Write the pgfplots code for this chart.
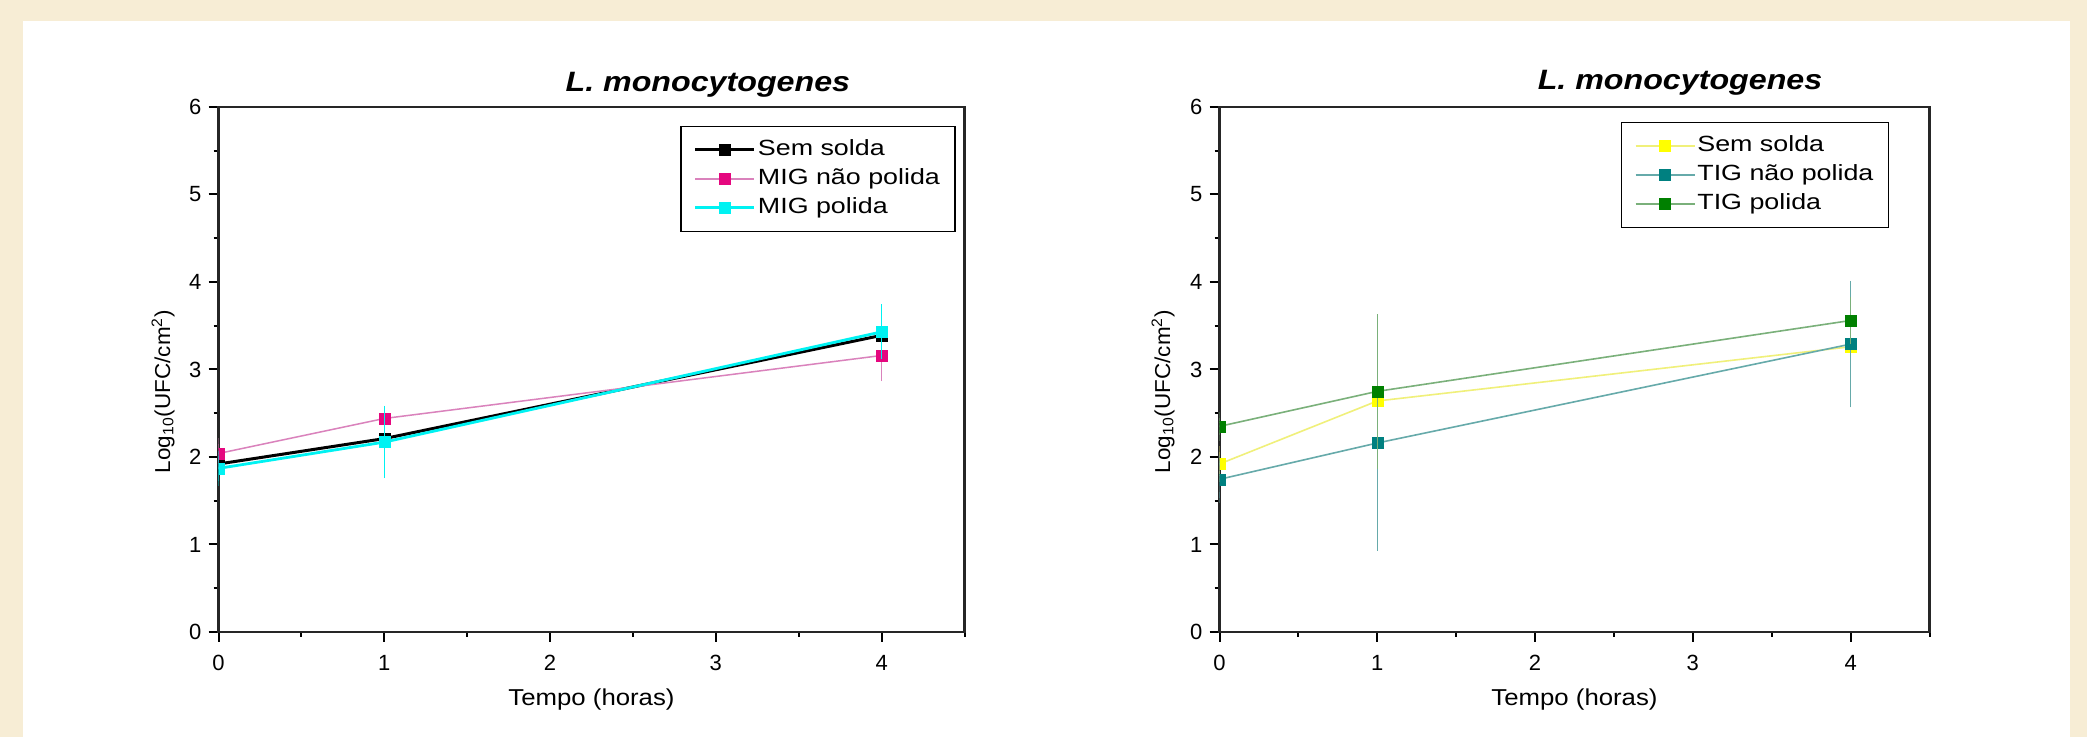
\documentclass[border=0pt]{standalone}
\usepackage{pgfplots}
\pgfplotsset{compat=1.18}
\usepackage{fontspec}
\setmainfont{Liberation Sans}
\newfontfamily\titlefont{Liberation Sans}[FakeStretch=1.15]
\newfontfamily\legfont{Liberation Sans}[FakeStretch=1.22]
\newfontfamily\labfont{Liberation Sans}[FakeStretch=1.12]
\newfontfamily\ylabfont{Liberation Sans}[FakeStretch=1.04]
\newfontfamily\tickfont{Liberation Sans}

\definecolor{cream}{HTML}{F7EDD5}
\definecolor{mpink}{HTML}{E5077F}
\definecolor{mpinkl}{HTML}{DA82BC}
\definecolor{mcyan}{HTML}{00F2F2}
\definecolor{tyel}{HTML}{FFFF00}
\definecolor{tyell}{HTML}{F0F07A}
\definecolor{tteal}{HTML}{008080}
\definecolor{tteall}{HTML}{66AAAA}
\definecolor{tgreen}{HTML}{008000}
\definecolor{tgreenl}{HTML}{7AB07A}

\pgfplotsset{
  myax/.style={
    scale only axis, height=262.5pt,
    xmin=0, xmax=4.5, ymin=0, ymax=6,
    xtick={0,1,2,3,4}, ytick={0,1,2,3,4,5,6},
    minor xtick={0.5,1.5,2.5,3.5,4.5},
    minor ytick={0.5,1.5,2.5,3.5,4.5,5.5},
    tick pos=left, tick align=outside,
    major tick length=5pt, minor tick length=2.5pt,
    every tick/.style={line width=1pt, black},
    axis line style={line width=1.1pt, black!85},
    tick label style={font=\tickfont\fontsize{11}{11}\selectfont},
    xticklabel style={yshift=-3pt},
    /pgf/number format/assume math mode=true,
    clip marker paths=true,
    xlabel={Tempo (horas)},
    ylabel={Log\textsubscript{10}(UFC/cm\textsuperscript{2})},
    title={\titlefont\bfseries\itshape L. monocytogenes},
    every axis x label/.style={at={(axis description cs:0.5,0)}, anchor=base, yshift=-37pt,
      font=\labfont\fontsize{11.5}{11.5}\selectfont},
    legend cell align=left,
    legend image code/.code={\draw[mark repeat=2,mark phase=2,#1] plot coordinates {(0pt,0pt) (14.75pt,0pt) (29.5pt,0pt)};},
    legend style={draw=black, line width=0.6pt, fill=white,
      font=\legfont\fontsize{11}{11}\selectfont,
      inner xsep=6.5pt, inner ysep=4.8pt, row sep=0.5pt,
      nodes={inner xsep=1pt, inner ysep=1.5pt, text height=8.5pt, text depth=2.5pt}},
  },
  ser/.style n args={3}{color=#1, line width=#3, mark=square*,
    mark size=2.75pt, mark options={solid, fill=#2, draw=#2, line width=0.2pt},
    error bars/.cd, y dir=both, y explicit,
    error bar style={line width=0.5pt, color=#1},
    error mark options={mark size=2.75pt, line width=0.5pt, color=#1}},
}

\begin{document}
\begin{tikzpicture}
\fill[cream] (0,0) rectangle (1043.5pt,368.5pt);
\fill[white] (11.5pt,0pt) rectangle (1035pt,358pt);

\begin{axis}[myax, at={(109.25pt,52.5pt)}, anchor=south west, width=373pt,
  every axis title/.style={at={(axis description cs:0.656,1)}, anchor=base, yshift=7.5pt, font=\fontsize{14}{14}\selectfont},
  every axis y label/.style={at={(axis description cs:-0.065,0.458)}, anchor=base, rotate=90,
    font=\ylabfont\fontsize{10.8}{10.8}\selectfont},
  legend style={at={(0.988,0.9644)}, anchor=north east}]
\addplot[ser={black}{black}{1.5pt}] coordinates {(0,1.92) +- (0,0.04) (1,2.21) +- (0,0.05) (4,3.39) +- (0,0.04)};
\addlegendentry{Sem solda}
\addplot[ser={mpinkl}{mpink}{0.75pt}] coordinates {(0,2.04) +- (0,0.11) (1,2.44) +- (0,0.07) (4,3.16) +- (0,0.23)};
\addlegendentry{MIG não polida}
\addplot[ser={mcyan}{mcyan}{1.4pt}] coordinates {(0,1.87) +- (0,0.14) (1,2.17) +- (0,0.35) (4,3.43) +- (0,0.25)};
\addlegendentry{MIG polida}
\end{axis}

\begin{axis}[myax, at={(609.75pt,52.5pt)}, anchor=south west, width=355pt,
  every axis title/.style={at={(axis description cs:0.6486,1)}, anchor=base, yshift=8.5pt, font=\fontsize{14}{14}\selectfont},
  every axis y label/.style={at={(axis description cs:-0.0697,0.458)}, anchor=base, rotate=90,
    font=\ylabfont\fontsize{10.8}{10.8}\selectfont},
  legend style={at={(0.943,0.972)}, anchor=north east}]
\addplot[ser={tyell}{tyel}{0.8pt}] coordinates {(0,1.92) +- (0,0.14) (1,2.64) +- (0,0.63) (4,3.26) +- (0,0.32)};
\addlegendentry{Sem solda}
\addplot[ser={tteall}{tteal}{0.8pt}] coordinates {(0,1.745) +- (0,0.21) (1,2.16) +- (0,1.17) (4,3.29) +- (0,0.66)};
\addlegendentry{TIG não polida}
\addplot[ser={tgreenl}{tgreen}{0.8pt}] coordinates {(0,2.35) +- (0,0.10) (1,2.75) +- (0,0.82) (4,3.56) +- (0,0.21)};
\addlegendentry{TIG polida}
\end{axis}

\pgfresetboundingbox
\path[use as bounding box] (0,0) rectangle (1043.5pt,368.5pt);
\end{tikzpicture}
\end{document}
